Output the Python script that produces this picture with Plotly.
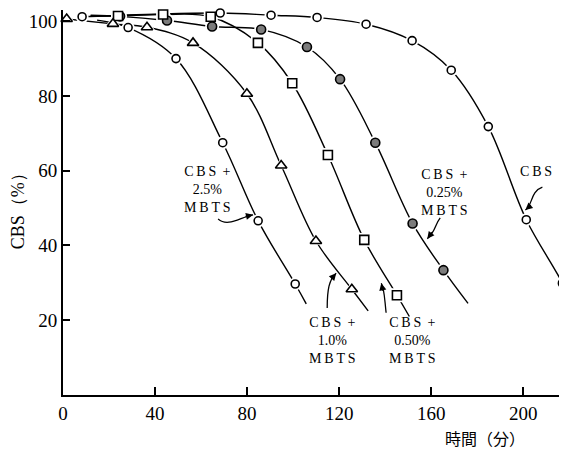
import plotly.graph_objects as go

# ---------------- data ----------------
x_ticks = [0, 40, 80, 120, 160, 200]
y_ticks = [20, 40, 60, 80, 100]

# CBS alone (open circles)
cbs_x = [8.3, 68.3, 90.4, 110.4, 131.7, 151.7, 168.7, 184.8, 201.3, 217.0]
cbs_y = [101.2, 102.2, 101.6, 101.0, 99.2, 94.8, 86.9, 71.8, 46.9, 29.9]
cbs_head_x, cbs_head_y = [], []
cbs_tail_x, cbs_tail_y = [222.0], [22.5]

# CBS + 0.25% MBTS (filled circles)
m025_x = [24.8, 45.2, 64.8, 86.1, 106.0, 120.4, 135.7, 151.9, 165.3]
m025_y = [101.3, 100.2, 98.6, 97.8, 93.1, 84.5, 67.5, 45.9, 33.4]
m025_head_x, m025_head_y = [12.0], [101.6]
m025_tail_x, m025_tail_y = [176.0], [24.5]

# CBS + 0.50% MBTS (open squares)
m050_x = [23.9, 43.5, 64.2, 84.7, 99.6, 115.1, 130.9, 145.1]
m050_y = [101.4, 101.8, 101.2, 94.2, 83.4, 64.2, 41.5, 26.7]
m050_head_x, m050_head_y = [12.0], [101.4]
m050_tail_x, m050_tail_y = [150.5], [21.0]

# CBS + 1.0% MBTS (open triangles)
m10_x = [1.6, 21.7, 36.5, 56.5, 79.9, 94.8, 109.9, 125.5]
m10_y = [100.6, 99.3, 98.4, 94.2, 80.6, 61.4, 41.2, 28.3]
m10_head_x, m10_head_y = [], []
m10_tail_x, m10_tail_y = [132.6], [22.5]

# CBS + 2.5% MBTS (open circles)
m25_x = [28.3, 49.1, 69.4, 84.8, 100.9]
m25_y = [98.3, 90.0, 67.5, 46.6, 29.7]
m25_head_x, m25_head_y = [14.8], [100.3]
m25_tail_x, m25_tail_y = [105.7], [24.4]

series = [
    # name, x, y, head, tail, symbol, fill, size
    ("CBS", cbs_x, cbs_y, (cbs_head_x, cbs_head_y), (cbs_tail_x, cbs_tail_y), "circle", "white", 8),
    ("0.25%", m025_x, m025_y, (m025_head_x, m025_head_y), (m025_tail_x, m025_tail_y), "circle", "#7c7c7c", 9),
    ("0.50%", m050_x, m050_y, (m050_head_x, m050_head_y), (m050_tail_x, m050_tail_y), "square", "white", 9),
    ("1.0%", m10_x, m10_y, (m10_head_x, m10_head_y), (m10_tail_x, m10_tail_y), "triangle-up", "white", 10),
    ("2.5%", m25_x, m25_y, (m25_head_x, m25_head_y), (m25_tail_x, m25_tail_y), "circle", "white", 8),
]

fig = go.Figure()

# curves
for name, xs, ys, head, tail, sym, fill, size in series:
    cx = list(head[0]) + list(xs) + list(tail[0])
    cy = list(head[1]) + list(ys) + list(tail[1])
    fig.add_trace(go.Scatter(x=cx, y=cy, mode="lines",
                             line=dict(color="black", width=1.4, shape="spline", smoothing=1.0),
                             showlegend=False, hoverinfo="skip", cliponaxis=True))

# white halos to break the lines at the markers (hand-drawn look)
for name, xs, ys, head, tail, sym, fill, size in series:
    fig.add_trace(go.Scatter(x=xs, y=ys, mode="markers",
                             marker=dict(symbol=sym, size=size + 5, color="white",
                                         line=dict(width=0)),
                             showlegend=False, hoverinfo="skip", cliponaxis=False))

# markers
for name, xs, ys, head, tail, sym, fill, size in series:
    fig.add_trace(go.Scatter(x=xs, y=ys, mode="markers", name=name,
                             marker=dict(symbol=sym, size=size, color=fill,
                                         line=dict(width=1.6, color="black")),
                             showlegend=False, cliponaxis=False))

serif = "Liberation Serif"
ts = "\u2009"

labels = [
    (62.6, 55.1, f"C{ts}B{ts}S{ts} +<br>2.5%<br>M{ts}B{ts}T{ts}S"),
    (165.7, 54.3, f"C{ts}B{ts}S{ts} +<br>0.25%<br>M{ts}B{ts}T{ts}S"),
    (205.7, 59.9, f"C{ts}B{ts}S"),
    (117.0, 14.6, f"C{ts}B{ts}S{ts} +<br>1.0%<br>M{ts}B{ts}T{ts}S"),
    (151.7, 14.6, f"C{ts}B{ts}S{ts} +<br>0.50%<br>M{ts}B{ts}T{ts}S"),
]
annotations = []
for lx, ly, txt in labels:
    annotations.append(dict(x=lx, y=ly, xref="x", yref="y", text=txt, showarrow=False,
                            xanchor="center", yanchor="middle", align="center",
                            font=dict(family=serif, size=14, color="black")))

# curved arrow stems (bezier paths) + arrow heads
arrows = [
    # tail, ctrl1, ctrl2, tip, head offset (px)
    ((67.4, 47.1), (71.7, 44.8), (77.0, 47.6), (82.6, 48.2), (-9, 2)),
    ((163.9, 47.4), (161.5, 45.5), (162.0, 43.8), (158.3, 41.8), (6, -8)),
    ((208.3, 55.6), (203.0, 54.5), (204.0, 50.5), (200.9, 49.5), (7, -6)),
    ((114.8, 23.3), (114.8, 28.0), (115.6, 31.0), (118.7, 32.6), (-6, 7)),
    ((140.4, 22.0), (139.6, 26.5), (139.6, 28.6), (138.3, 29.9), (2, 9)),
]
shapes = []
for t, c1, c2, tip, off in arrows:
    shapes.append(dict(type="path", xref="x", yref="y",
                       path=f"M {t[0]},{t[1]} C {c1[0]},{c1[1]} {c2[0]},{c2[1]} {tip[0]},{tip[1]}",
                       line=dict(color="black", width=1.3)))
    annotations.append(dict(x=tip[0], y=tip[1], xref="x", yref="y", text="",
                            showarrow=True, ax=off[0], ay=off[1], arrowhead=2,
                            arrowsize=1.1, arrowwidth=1.3, arrowcolor="black"))

# axis titles (page body has an 8px margin; figure is sized/placed to compensate)
annotations.append(dict(x=0.837, y=-0.112, xref="paper", yref="paper", text="時間（分）",
                        xanchor="center", yanchor="middle",
                        showarrow=False, font=dict(family="Noto Sans CJK JP", size=16, color="black")))
annotations.append(dict(x=-0.0893, y=0.49, xref="paper", yref="paper", text="CBS（%）",
                        xanchor="center", yanchor="middle",
                        showarrow=False, textangle=-90,
                        font=dict(family=serif, size=18, color="black")))

fig.update_layout(
    width=559, height=441,
    margin=dict(l=55, r=0, t=2, b=54),
    paper_bgcolor="white", plot_bgcolor="white",
    showlegend=False,
    annotations=annotations,
    shapes=shapes,
    xaxis=dict(range=[0, 219], tickvals=x_ticks, ticktext=[str(v) for v in x_ticks],
               ticks="inside", ticklen=8, tickwidth=1.5, tickcolor="black",
               showline=True, linewidth=2, linecolor="black",
               showgrid=False, zeroline=False,
               tickfont=dict(family=serif, size=19, color="black")),
    yaxis=dict(range=[0, 103], tickvals=y_ticks, ticktext=[str(v) for v in y_ticks],
               ticks="inside", ticklen=7, tickwidth=1.5, tickcolor="black",
               showline=True, linewidth=2, linecolor="black",
               showgrid=False, zeroline=False,
               tickfont=dict(family=serif, size=19, color="black")),
)

fig.write_html("out.html")
